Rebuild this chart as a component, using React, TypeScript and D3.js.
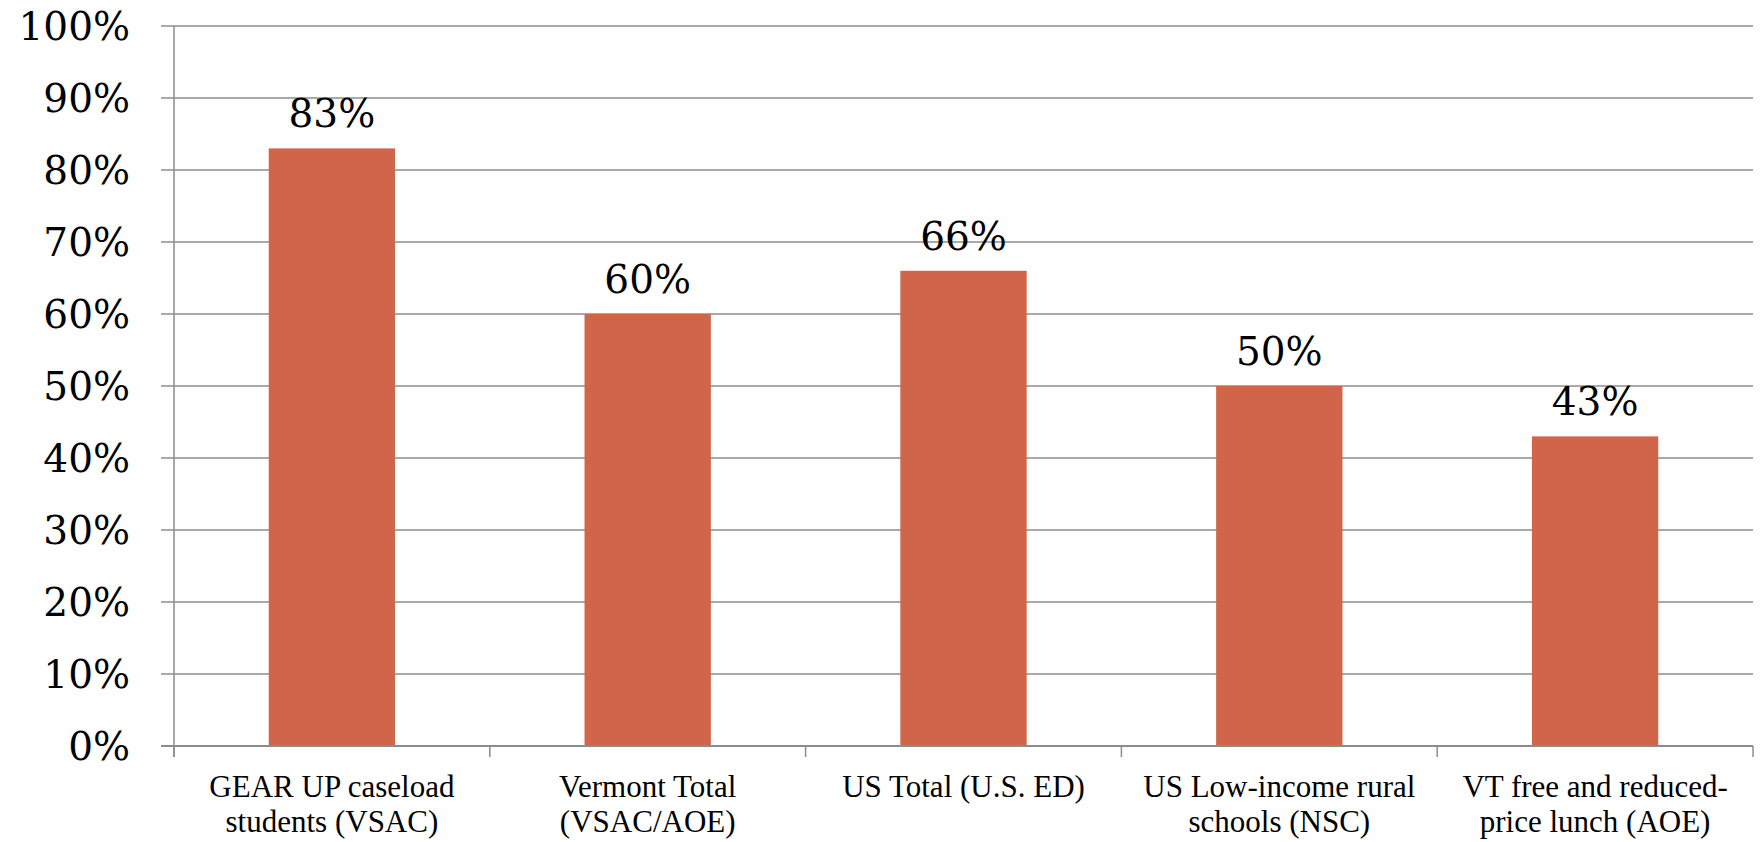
import React, { useEffect, useRef } from "react";
import * as d3 from "d3";

const categories = [
  "GEAR UP caseload students (VSAC)",
  "Vermont Total (VSAC/AOE)",
  "US Total (U.S. ED)",
  "US Low-income rural schools (NSC)",
  "VT free and reduced-price lunch (AOE)",
];
const labelLines = [
  ["GEAR UP caseload", "students (VSAC)"],
  ["Vermont Total", "(VSAC/AOE)"],
  ["US Total (U.S. ED)"],
  ["US Low-income rural", "schools (NSC)"],
  ["VT free and reduced-", "price lunch (AOE)"],
];
const values = [83, 60, 66, 50, 43];
const yTicks = [0, 10, 20, 30, 40, 50, 60, 70, 80, 90, 100];

const W = 1760;
const H = 842;
const FONT = "'Liberation Serif', 'Times New Roman', serif";
const NUM_FONT = "'DejaVu Serif', Georgia, serif";
const GRID = "#8c8c8c";
const BAR = "#d16549";

export default function App() {
  const ref = useRef<SVGSVGElement>(null);

  useEffect(() => {
    const svg = d3.select(ref.current);
    svg.selectAll("*").remove();

    const left = 174, right = 1753, top = 26, bottom = 746;

    const y = d3.scaleLinear().domain([0, 100]).range([bottom, top]);
    // slots for the category ticks and labels
    const slot = d3.scaleBand().domain(categories).range([left, right]).padding(0);
    // bars take 40% of each slot (gap width 150%)
    const x = d3
      .scaleBand()
      .domain(categories)
      .range([left, right])
      .paddingInner(0.6)
      .paddingOuter(0.3);

    // gridlines + tick marks
    svg
      .append("g")
      .selectAll("line")
      .data(yTicks)
      .join("line")
      .attr("x1", left - 13)
      .attr("x2", right)
      .attr("y1", (d) => y(d))
      .attr("y2", (d) => y(d))
      .attr("stroke", GRID)
      .attr("stroke-width", 1.5);

    // y tick labels
    svg
      .append("g")
      .selectAll("text")
      .data(yTicks)
      .join("text")
      .attr("x", 130)
      .attr("y", (d) => y(d))
      .attr("dy", "0.36em")
      .attr("text-anchor", "end")
      .attr("font-family", NUM_FONT)
      .attr("font-size", 39)
      .attr("fill", "#000")
      .text((d) => d + "%");

    // bars
    svg
      .append("g")
      .selectAll("rect")
      .data(values)
      .join("rect")
      .attr("x", (d, i) => x(categories[i])!)
      .attr("y", (d) => y(d))
      .attr("width", x.bandwidth())
      .attr("height", (d) => bottom - y(d))
      .attr("fill", BAR);

    // value labels
    svg
      .append("g")
      .selectAll("text")
      .data(values)
      .join("text")
      .attr("x", (d, i) => x(categories[i])! + x.bandwidth() / 2)
      .attr("y", (d) => y(d) - 21)
      .attr("text-anchor", "middle")
      .attr("font-family", NUM_FONT)
      .attr("font-size", 39)
      .attr("fill", "#000")
      .text((d) => d + "%");

    // y axis line
    svg
      .append("line")
      .attr("x1", left)
      .attr("x2", left)
      .attr("y1", top)
      .attr("y2", bottom + 11)
      .attr("stroke", GRID)
      .attr("stroke-width", 1.5);

    // x axis line
    svg
      .append("line")
      .attr("x1", left - 13)
      .attr("x2", right)
      .attr("y1", bottom)
      .attr("y2", bottom)
      .attr("stroke", GRID)
      .attr("stroke-width", 2);

    // category ticks
    const bounds = categories.map((c) => slot(c)!).concat([right]);
    svg
      .append("g")
      .selectAll("line")
      .data(bounds)
      .join("line")
      .attr("x1", (d) => d)
      .attr("x2", (d) => d)
      .attr("y1", bottom)
      .attr("y2", bottom + 11)
      .attr("stroke", GRID)
      .attr("stroke-width", 1.5);

    // category labels
    const lab = svg
      .append("g")
      .selectAll("text")
      .data(labelLines)
      .join("text")
      .attr("text-anchor", "middle")
      .attr("font-family", FONT)
      .attr("font-size", 31)
      .attr("fill", "#000")
      .attr("transform", (d, i) => `translate(${slot(categories[i])! + slot.bandwidth() / 2}, 797)`);
    lab
      .selectAll("tspan")
      .data((d) => d)
      .join("tspan")
      .attr("x", 0)
      .attr("y", (d, i) => i * 35)
      .text((d) => d);
  }, []);

  return (
    <svg
      ref={ref}
      width={W}
      height={H}
      style={{ position: "absolute", left: 0, top: 0, background: "#fff" }}
    />
  );
}
